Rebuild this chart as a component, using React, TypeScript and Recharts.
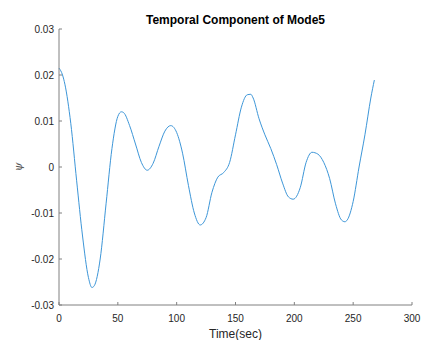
import { LineChart, Line, XAxis, YAxis } from 'recharts'

// time (sec) and temporal coefficient of mode 5
const times = [
  0, 3, 5, 10, 15, 20, 25, 28, 30, 35, 40, 45, 50, 53, 55, 60, 65, 70, 75, 80,
  85, 90, 95, 100, 105, 110, 115, 120, 125, 130, 135, 140, 145, 150, 155, 160,
  163, 165, 170, 175, 180, 185, 190, 195, 199, 205, 210, 215, 220, 225, 230,
  235, 240, 243, 245, 250, 255, 260, 265, 268,
]
const psi = [
  0.0215, 0.02, 0.018, 0.0095, -0.003, -0.015, -0.024, -0.0262, -0.0258, -0.02,
  -0.008, 0.004, 0.011, 0.012, 0.0118, 0.009, 0.005, 0.001, -0.0007, 0.0008,
  0.0045, 0.0078, 0.009, 0.0075, 0.003, -0.004, -0.01, -0.0126, -0.011, -0.0055,
  -0.0022, -0.0012, 0.001, 0.007, 0.013, 0.0157, 0.0158, 0.015, 0.0105, 0.007,
  0.004, 0.0005, -0.0035, -0.0065, -0.007, -0.0045, 0.001, 0.0032, 0.0028, 0.001,
  -0.0025, -0.008, -0.0115, -0.0119, -0.0115, -0.0075, 0.0, 0.007, 0.015, 0.0189,
]
const xTicks = [0, 50, 100, 150, 200, 250, 300]
const yTicks = [-0.03, -0.02, -0.01, 0, 0.01, 0.02, 0.03]

const data = times.map((t, i) => ({ t, v: psi[i] }))

const axisColor = '#808080'
const textColor = '#262626'
const font = 'Liberation Sans, Arial, sans-serif'

export default function App() {
  return (
    <div style={{ position: 'absolute', left: 0, top: 0, width: 422, height: 340, background: '#fff' }}>
      <LineChart width={422} height={340} data={data} margin={{ top: 29, right: 10, left: 0, bottom: 5 }}>
        <text x={235.5} y={24} textAnchor="middle" fontFamily={font} fontSize={12} fontWeight="bold" fill="#000">
          Temporal Component of Mode5
        </text>
        <text
          x={22}
          y={167}
          textAnchor="middle"
          fontFamily="DejaVu Serif, serif"
          fontStyle="italic"
          fontSize={11}
          fill="#555"
          transform="rotate(-90 22 167)"
        >
          ψ
        </text>
        <XAxis
          dataKey="t"
          type="number"
          domain={[0, 300]}
          ticks={xTicks}
          height={30}
          stroke={axisColor}
          tickSize={-3}
          tickMargin={13}
          tick={{ fill: textColor, fontSize: 10, fontFamily: font }}
          label={{ value: 'Time(sec)', position: 'insideBottom', offset: -3, fill: textColor, fontSize: 12, fontFamily: font }}
        />
        <XAxis
          xAxisId="top"
          dataKey="t"
          type="number"
          orientation="top"
          domain={[0, 300]}
          ticks={xTicks}
          height={0}
          stroke={axisColor}
          tickSize={-3}
          tick={false}
        />
        <YAxis
          type="number"
          domain={[-0.03, 0.03]}
          ticks={yTicks}
          width={59}
          stroke={axisColor}
          tickSize={-3}
          tickMargin={8}
          tickFormatter={(v: number) => (v === 0 ? '0' : String(Number(v.toFixed(2))))}
          tick={{ fill: textColor, fontSize: 10, fontFamily: font }}
        />
        <YAxis
          yAxisId="right"
          orientation="right"
          type="number"
          domain={[-0.03, 0.03]}
          ticks={yTicks}
          width={0}
          stroke={axisColor}
          tickSize={-3}
          tick={false}
        />
        <Line
          type="monotone"
          dataKey="v"
          stroke="#3d96d8"
          strokeWidth={1}
          dot={false}
          isAnimationActive={false}
        />
      </LineChart>
    </div>
  )
}
